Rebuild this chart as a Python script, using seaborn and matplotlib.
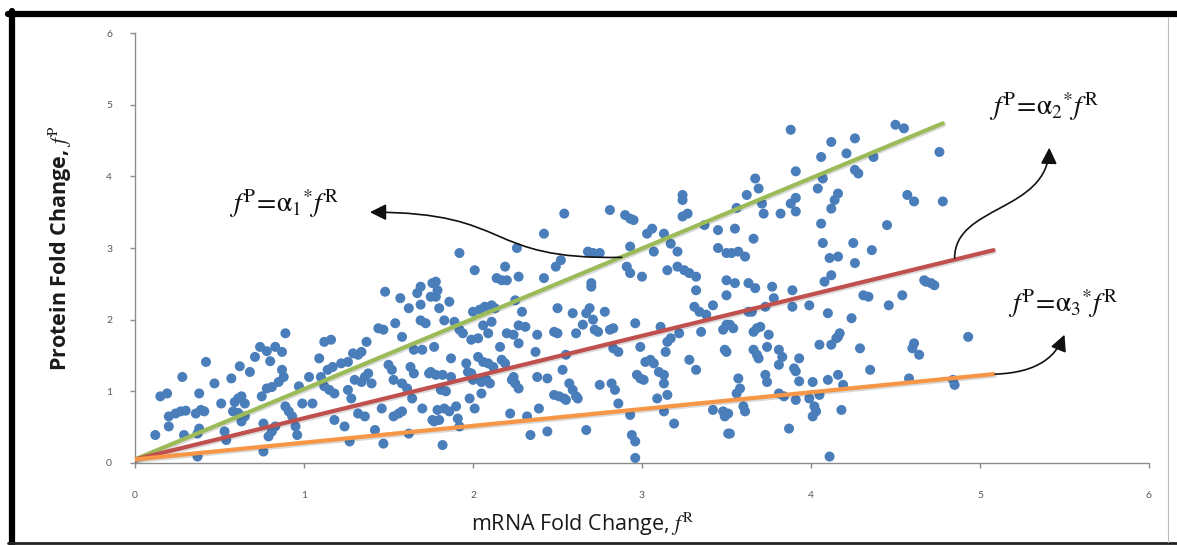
import matplotlib
matplotlib.use("Agg")
import matplotlib.pyplot as plt
import seaborn as sns
import pandas as pd
from matplotlib.lines import Line2D
from matplotlib.patches import FancyArrowPatch
from matplotlib.path import Path
import matplotlib.patheffects as pe

# ---------------- data ----------------
scatter_points = [
    (0.12,0.39),(0.15,0.93),(0.19,0.97),(0.20,0.65),(0.20,0.51),(0.24,0.69),(0.27,0.72),(0.30,0.73),
    (0.28,1.20),(0.29,0.39),(0.37,0.41),(0.38,0.48),(0.36,0.69),(0.39,0.74),(0.41,0.72),(0.38,0.97),
    (0.42,1.41),(0.37,0.09),(0.47,1.11),(0.51,0.83),(0.53,0.44),(0.54,0.32),(0.57,1.18),(0.59,0.85),
    (0.61,0.90),(0.63,0.93),(0.65,0.83),(0.58,0.72),(0.61,0.70),(0.62,1.35),(0.68,1.27),(0.63,0.58),
    (0.65,0.65),(0.71,1.48),(0.74,1.62),(0.78,1.56),(0.80,1.42),(0.75,0.93),(0.78,1.04),(0.81,1.06),
    (0.76,0.16),(0.76,0.55),(0.79,0.37),(0.81,0.44),(0.83,0.51),(0.83,1.62),(0.87,1.55),(0.85,1.13),
    (0.88,1.20),(0.87,1.30),(0.89,1.81),(0.89,0.79),(0.91,0.72),(0.93,0.65),(0.95,0.51),(0.96,0.39),
    (0.97,1.07),(0.99,0.83),(1.03,1.20),(1.05,0.83),(1.09,1.46),(1.12,1.69),(1.16,1.72),(1.10,1.20),
    (1.14,1.30),(1.17,1.34),(1.12,1.07),(1.15,1.02),(1.18,0.97),(1.18,0.60),(1.22,1.39),(1.26,1.41),
    (1.29,1.53),(1.32,1.51),(1.34,1.55),(1.24,0.51),(1.26,1.02),(1.28,0.90),(1.27,0.30),(1.30,1.16),
    (1.34,1.13),(1.36,1.20),(1.38,1.25),(1.40,1.11),(1.32,0.69),(1.36,0.65),(1.37,1.69),(1.42,0.46),
    (1.44,1.88),(1.47,1.86),(1.46,0.76),(1.47,0.27),(1.48,2.39),(1.50,1.37),(1.52,1.30),(1.53,1.16),
    (1.58,1.11),(1.61,1.04),(1.53,0.65),(1.56,0.69),(1.58,0.72),(1.54,1.95),(1.57,2.30),(1.62,2.16),
    (1.58,1.76),(1.63,1.34),(1.65,1.25),(1.64,0.90),(1.65,1.58),(1.67,2.37),(1.69,2.46),(1.69,2.21),
    (1.69,1.99),(1.72,1.95),(1.70,1.58),(1.70,0.76),(1.74,1.25),(1.75,2.32),(1.76,2.51),(1.76,0.60),
    (1.62,0.41),
    (1.78,2.32),(1.79,2.41),(1.80,2.16),(1.77,1.62),(1.75,1.27),(1.78,1.23),(1.82,1.23),(1.87,1.20),
    (1.81,1.02),(1.84,1.00),(1.79,0.74),(1.83,0.76),(1.86,0.72),(1.90,0.79),(1.77,0.58),(1.80,0.60),
    (1.83,1.99),(1.82,0.25),(1.86,2.25),(1.87,1.46),(1.89,1.97),(1.92,1.86),(1.94,1.81),(1.91,0.62),
    (1.92,0.51),(1.96,1.39),(1.97,1.27),(1.99,1.25),(2.00,1.16),(1.98,0.90),(2.00,2.11),(2.04,2.14),
    (2.07,2.18),(2.11,2.20),(2.13,2.16),(1.99,1.72),(2.03,1.74),(2.01,0.76),(2.03,1.48),(2.06,1.41),
    (2.09,1.39),(2.12,1.34),(2.05,1.13),(2.08,1.16),(2.10,1.11),(2.05,0.97),(2.06,1.92),(2.11,1.97),
    (2.09,1.81),(2.16,1.62),(2.17,1.44),(2.19,1.39),(2.20,1.81),(2.24,1.79),(2.27,1.92),(2.31,1.90),
    (2.22,0.69),(2.23,1.16),(2.25,1.11),(2.27,1.04),(2.24,1.20),(2.25,2.27),(2.29,2.11),(2.27,1.67),
    (2.32,0.65),(2.34,0.39),(2.37,1.55),(2.38,1.79),(2.38,1.20),(2.44,1.18),(2.39,0.76),(2.44,0.44),
    (2.48,1.83),(2.50,1.81),(2.48,0.95),(2.51,0.93),(2.54,0.90),(2.55,0.88),(2.50,2.16),(2.53,1.30),
    (2.55,1.51),(2.57,1.11),(2.59,1.02),(2.61,0.93),(2.62,0.90),(2.59,2.09),(2.61,1.81),(2.65,1.93),
    (2.67,2.09),(2.69,2.16),(2.71,2.00),(2.72,1.86),(2.74,1.83),(2.67,0.46),(2.70,2.46),(2.75,1.09),
    (2.78,2.11),(2.81,1.86),(2.83,1.88),(2.82,1.11),(2.84,1.02),(2.83,1.60),(2.86,1.55),(2.86,0.83),
    (2.93,0.67),(2.94,0.39),(2.96,0.30),(2.96,0.07),(2.96,1.95),(2.97,1.23),(2.99,1.18),(3.01,1.16),
    (2.99,1.62),(3.02,1.41),(3.05,1.44),(3.07,1.39),(3.09,0.90),(3.10,1.27),(3.13,1.23),(3.11,1.90),
    (3.13,1.11),(3.14,1.55),(3.15,1.69),(3.17,1.74),(3.13,0.72),(3.15,0.95),(3.19,0.55),(3.22,1.81),
    (3.28,1.44),(3.32,1.30),(3.31,2.18),(3.34,2.11),(3.38,2.07),(3.32,2.41),(3.35,1.83),(3.42,2.20),
    (3.42,0.74),(3.48,0.72),(3.49,0.65),(3.49,1.58),(3.48,1.86),(3.50,1.93),(3.50,2.34),(3.51,0.41),
    (3.55,2.51),(3.52,1.93),(3.54,1.88),(3.50,1.55),(3.51,0.69),(3.52,0.41),(3.57,1.18),(3.58,1.04),
    (3.56,0.97),(3.60,0.79),(3.61,0.72),(3.63,2.11),(3.65,2.11),(3.63,2.51),(3.67,2.44),(3.66,1.83),
    (3.68,1.88),(3.70,1.90),(3.66,1.58),(3.68,1.51),(3.69,1.46),(3.73,1.23),(3.74,1.13),(3.74,1.62),
    (3.73,2.18),(3.75,1.79),(3.77,2.46),(3.78,2.30),(3.81,1.58),(3.83,1.48),(3.81,1.37),(3.81,0.97),
    (3.84,0.93),(3.89,2.41),(3.89,2.18),(3.87,0.48),(3.90,1.32),(3.91,1.28),(3.91,0.88),(3.93,1.46),
    (3.93,1.14),(3.99,2.20),(3.99,0.90),(4.01,1.13),(4.02,0.79),(4.03,0.72),(4.01,0.65),(4.05,1.65),
    (4.05,0.95),(4.08,2.53),(4.10,2.09),(4.10,1.16),(4.12,1.65),(4.15,1.74),(4.17,1.81),(4.16,1.76),
    (4.16,1.23),(4.18,0.74),(4.11,0.09),(4.19,1.09),(4.24,2.02),(4.29,1.60),(4.31,2.34),(4.34,2.32),
    (4.35,1.30),(4.46,2.20),(4.54,2.34),(4.58,1.18),(4.60,1.60),(4.61,1.67),(4.64,1.51),(4.68,2.53),
    (4.73,2.48),(4.84,1.16),(4.85,1.09),(4.93,1.76),
    (1.78,2.53),(1.92,2.93),(2.01,2.69),(2.14,2.58),(2.17,2.55),(2.20,2.55),(2.19,2.74),(2.26,3.00),
    (2.27,2.60),(2.42,3.20),(2.42,2.58),(2.49,2.74),(2.52,2.83),(2.54,3.48),(2.68,2.95),(2.71,2.93),
    (2.75,2.93),(2.70,2.51),(2.81,3.53),(2.90,3.46),(2.93,3.41),(2.95,3.39),(2.91,2.74),(2.93,2.65),
    (2.93,3.02),(3.00,2.60),(3.03,3.20),(3.06,3.27),(3.07,2.95),(3.13,3.20),(3.17,3.06),(3.21,2.95),
    (3.15,2.69),(3.21,2.74),(3.25,2.69),(3.28,2.65),(3.32,2.60),(3.24,3.74),(3.24,3.67),(3.24,3.44),
    (3.27,3.48),(3.37,3.32),(3.45,3.25),(3.45,3.00),(3.50,2.93),(3.50,2.55),
    (3.88,4.65),(3.67,3.97),(3.69,3.83),(3.62,3.74),(3.56,3.56),(3.55,3.27),(3.66,3.13),(3.53,2.93),
    (3.57,2.95),(3.61,2.88),(3.71,3.62),(3.72,3.48),(3.82,3.48),(3.88,3.62),(3.91,3.70),(3.91,3.51),
    (3.91,4.07),(4.04,3.83),(4.06,4.27),(4.07,3.97),(4.06,3.34),(4.07,3.07),(4.12,4.48),(4.12,3.55),
    (4.14,3.67),(4.16,3.76),(4.11,2.86),(4.16,2.88),(4.12,2.62),(4.21,4.32),(4.25,3.07),(4.26,4.53),
    (4.26,4.09),(4.28,4.04),(4.26,2.79),(4.36,2.97),(4.37,4.27),(4.45,3.32),(4.50,4.72),(4.55,4.67),
    (4.57,3.74),(4.61,3.65),(4.76,4.34),(4.78,3.65),(4.67,2.55),(4.71,2.51),
]

# fitted lines (start / end points)
green_x, green_y = [0.0, 4.78], [0.05, 4.74]
red_x, red_y = [0.0, 5.08], [0.05, 2.97]
orange_x, orange_y = [0.0, 5.08], [0.05, 1.24]

x_ticks = [0, 1, 2, 3, 4, 5, 6]
y_ticks = [0, 1, 2, 3, 4, 5, 6]

labels = [
    r"$f^{\mathrm{P}}\!=\!\mathrm{\alpha}_1{}^{*}f^{\mathrm{R}}$",
    r"$f^{\mathrm{P}}\!=\!\mathrm{\alpha}_2{}^{*}f^{\mathrm{R}}$",
    r"$f^{\mathrm{P}}\!=\!\mathrm{\alpha}_3{}^{*}f^{\mathrm{R}}$",
]

# ---------------- style ----------------
sns.set_theme(style="white")
plt.rcParams["font.family"] = ["Lato", "DejaVu Sans"]
plt.rcParams["mathtext.fontset"] = "stix"

fig = plt.figure(figsize=(11.77, 5.45), dpi=100)
ax = fig.add_axes([0.1147, 0.1505, 0.8615, 0.7889])

df = pd.DataFrame(scatter_points, columns=["mrna", "protein"])
sns.scatterplot(data=df, x="mrna", y="protein", ax=ax, color="#4A7EBB",
                s=52, edgecolor="none", linewidth=0, zorder=2)

shadow = [pe.SimpleLineShadow(offset=(0.8, -1.2), alpha=0.18, shadow_color="#333333"), pe.Normal()]
for lx, ly, c in [(green_x, green_y, "#9BBB59"), (red_x, red_y, "#C0504D"),
                  (orange_x, orange_y, "#F79646")]:
    sns.lineplot(x=lx, y=ly, ax=ax, color=c, linewidth=3.0, sort=False,
                 path_effects=shadow, zorder=3)

ax.set_xlim(0, 6)
ax.set_ylim(0, 6)
ax.set_xticks(x_ticks)
ax.set_yticks(y_ticks)
ax.set_xticklabels([str(t) for t in x_ticks])
ax.set_yticklabels([str(t) for t in y_ticks])

for s in ["top", "right"]:
    ax.spines[s].set_visible(False)
for s in ["left", "bottom"]:
    ax.spines[s].set_color("#8C8C8C")
    ax.spines[s].set_linewidth(1.0)

ax.tick_params(axis="x", direction="out", length=3.5, width=1.0, color="#8C8C8C",
               pad=17, labelsize=7.5, labelcolor="#595959", bottom=True)
ax.tick_params(axis="y", direction="out", length=3.5, width=1.0, color="#8C8C8C",
               pad=13, labelsize=7.5, labelcolor="#595959", left=True)

ax.set_xlabel(r"mRNA Fold Change, $f^{\mathrm{R}}$", fontsize=15.5, color="#1a1a1a",
              family=["Open Sans", "DejaVu Sans"])
ax.xaxis.set_label_coords(0.442, -0.112)
ax.set_ylabel(r"Protein Fold Change, $f^{\mathrm{P}}$", fontsize=15.5, fontweight="bold",
              color="#1a1a1a", family=["Open Sans", "DejaVu Sans"])
ax.yaxis.set_label_coords(-0.060, 0.50)

# annotation texts
ax.text(0.88, 3.62, labels[0], fontsize=20, ha="center", va="center", color="#111111")
ax.text(5.38, 4.97, labels[1], fontsize=20, ha="center", va="center", color="#111111")
ax.text(5.49, 2.22, labels[2], fontsize=20, ha="center", va="center", color="#111111")

# curved arrows
arrow_kw = dict(arrowstyle="-|>,head_length=0.7,head_width=0.35", mutation_scale=14,
                color="#111111", linewidth=1.2, transform=ax.transData, zorder=4)
p1 = Path([(2.88, 2.87), (2.05, 2.83), (2.25, 3.50), (1.39, 3.50)],
          [Path.MOVETO, Path.CURVE4, Path.CURVE4, Path.CURVE4])
ax.add_patch(FancyArrowPatch(path=p1, **arrow_kw))
p2 = Path([(4.85, 2.86), (4.85, 3.60), (5.40, 3.50), (5.41, 4.40)],
          [Path.MOVETO, Path.CURVE4, Path.CURVE4, Path.CURVE4])
ax.add_patch(FancyArrowPatch(path=p2, **arrow_kw))
p3 = Path([(5.09, 1.24), (5.35, 1.26), (5.45, 1.50), (5.50, 1.79)],
          [Path.MOVETO, Path.CURVE4, Path.CURVE4, Path.CURVE4])
ax.add_patch(FancyArrowPatch(path=p3, **arrow_kw))

# figure frame
W, H = 1177, 545
fig.add_artist(Line2D([8 / W, 1.0], [1 - 13.5 / H, 1 - 13.5 / H], color="black",
                      linewidth=4.5, transform=fig.transFigure, solid_capstyle="round"))
fig.add_artist(Line2D([11.5 / W, 11.5 / W], [1 - 11 / H, 0.0], color="black",
                      linewidth=4.5, transform=fig.transFigure, solid_capstyle="round"))
fig.add_artist(Line2D([8 / W, 1.0], [2 / H, 2 / H], color="#222222",
                      linewidth=2.0, transform=fig.transFigure))
fig.add_artist(Line2D([1168 / W, 1168 / W], [1 - 17 / H, 3 / H], color="#BBBBBB",
                      linewidth=0.8, transform=fig.transFigure))

fig.savefig("out.png", dpi=100)
